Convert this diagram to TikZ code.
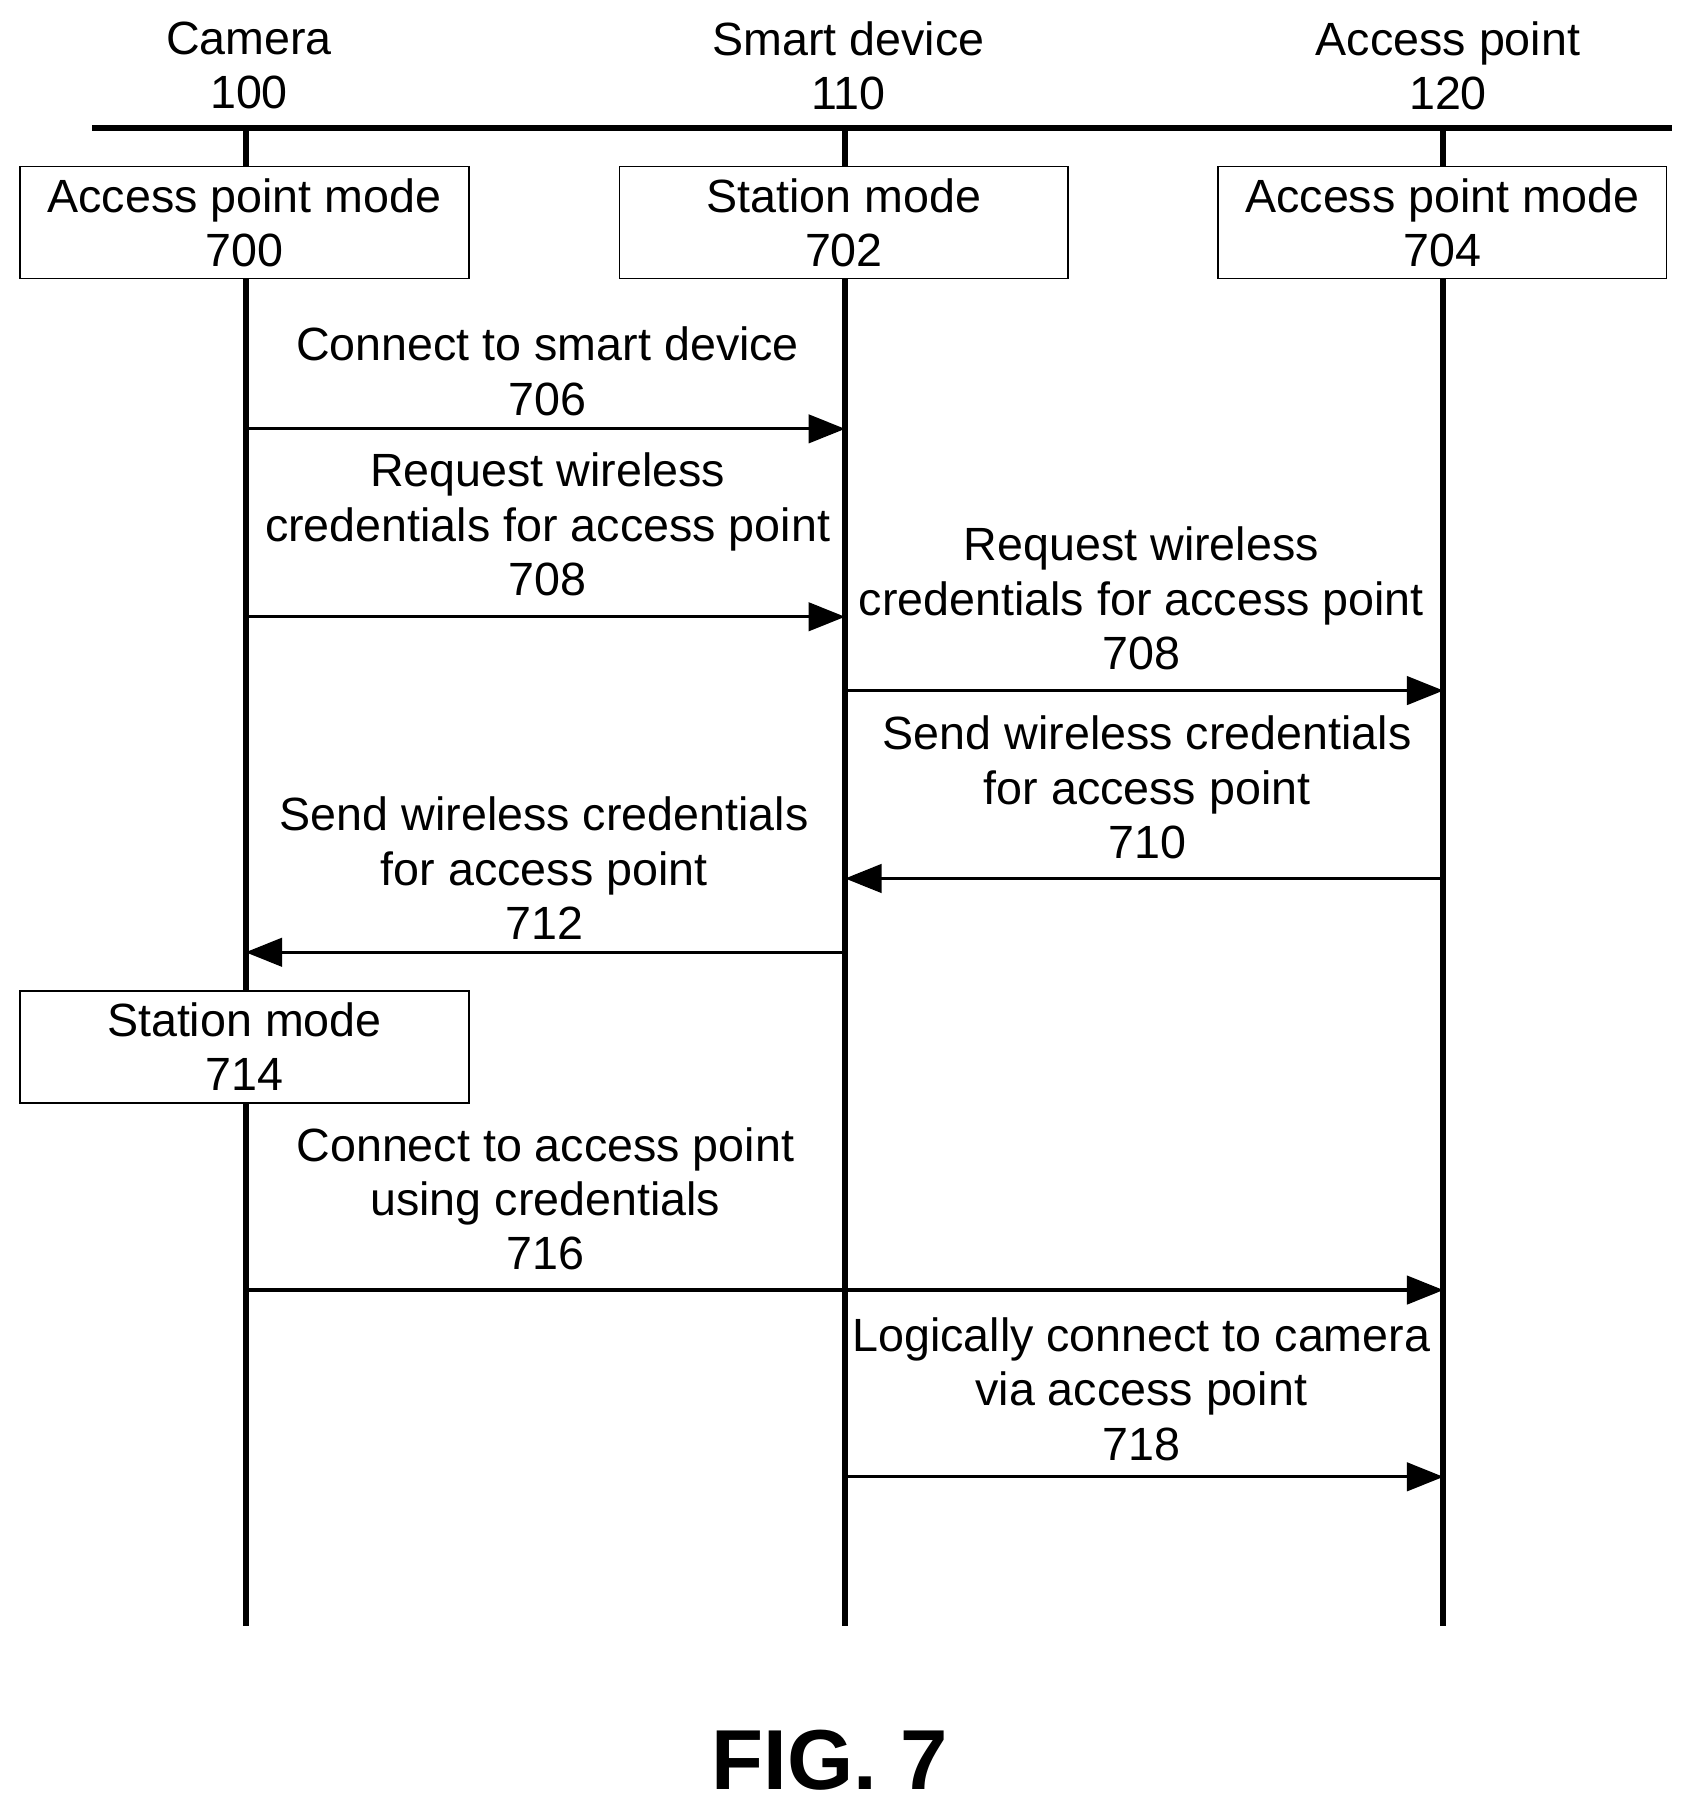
\documentclass[tikz,border=0pt]{standalone}
\usepackage{fontspec}
\setmainfont{Liberation Sans}
\usetikzlibrary{positioning,arrows.meta}

\begin{document}
\begin{tikzpicture}[x=0.01cm,y=-0.01cm,
    every node/.style={font=\fontsize{11.5}{13.4}\selectfont, align=center},
    label/.style={draw=none, inner sep=0pt},
    mode/.style={draw, thin, minimum width=3.89cm, minimum height=0.97cm, inner sep=0pt},
    life/.style={line width=1.5pt},
    msg/.style={line width=0.8pt, -{Triangle[length=9pt,width=7pt]}}
    ]
    \useasboundingbox (0,0) rectangle (1470,1570);

    % headers and lifelines
    \node[label] (camera) at (216,57) {Camera\\100};
    \node[label] (smart) at (736,57) {Smart device\\110};
    \node[label] (ap) at (1256,57) {Access point\\120};
    \draw[line width=1.7pt] (80,111) -- (1450,111);
    \foreach \name/\x in {cam/213, dev/733, acc/1252} {
        \coordinate (\name_top) at (\x,111);
        \coordinate (\name_bot) at (\x,1410);
        \draw[life] (\name_top) -- (\name_bot);
    }

    % modes
    \node[mode, fill=white] (apmode_0) at (212,193) {Access point mode\\700};
    \node[mode, fill=white] (stamode_0) at (732,193) {Station mode\\702};
    \node[mode, fill=white] (apmode_1) at (1251,193) {Access point mode\\704};
    \node[mode, fill=white] (stamode_1) at (212,908) {Station mode\\714};

    % messages
    \node[label] (msg_706) at (475,322) {Connect to smart device\\706};
    \draw[msg] (213,372) coordinate (c706) -- (733,372) coordinate (d706);
    \node[label] (msg_708a) at (475,455) {Request wireless\\credentials for access point\\708};
    \draw[msg] (213,535) coordinate (c708) -- (733,535) coordinate (d708);
    \node[label] (msg_708b) at (990,519) {Request wireless\\credentials for access point\\708};
    \draw[msg] (733,599) coordinate (d708b) -- (1252,599) coordinate (a708b);
    \node[label] (msg_710) at (995,683) {Send wireless credentials\\for access point\\710};
    \draw[msg] (1252,762) coordinate (a710) -- (733,762) coordinate (d710);
    \node[label] (msg_712) at (472,753) {Send wireless credentials\\for access point\\712};
    \draw[msg] (733,826) coordinate (d712) -- (213,826) coordinate (c712);
    \node[label] (msg_716) at (473,1040) {Connect to access point\\using credentials\\716};
    \draw[msg] (213,1119) coordinate (c716) -- (1252,1119) coordinate (a716);
    \node[label] (msg_718) at (990,1205) {Logically connect to camera\\via access point\\718};
    \draw[msg] (733,1281) coordinate (d718) -- (1252,1281) coordinate (a718);

    \node[label, font=\fontsize{21}{24}\selectfont\bfseries] (fig) at (720,1527) {FIG. 7};
\end{tikzpicture}
\end{document}
